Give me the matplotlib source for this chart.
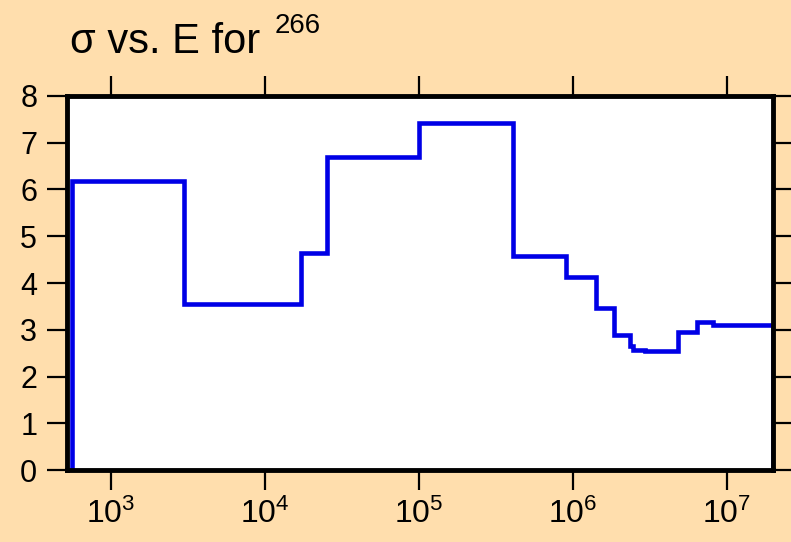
import numpy as np
import matplotlib
matplotlib.use("Agg")
import matplotlib.pyplot as plt

plt.rcParams['font.family'] = ['Liberation Sans', 'DejaVu Sans']
plt.rcParams['mathtext.fontset'] = 'custom'
plt.rcParams['mathtext.rm'] = 'Liberation Sans'
plt.rcParams['mathtext.it'] = 'Liberation Sans:italic'
plt.rcParams['mathtext.bf'] = 'Liberation Sans:bold'

# group boundaries (eV) and cross section per group
edges = [560, 3000, 17100, 25300, 1.0e5, 4.07e5, 9.0e5, 1.41e6, 1.85e6,
         2.35e6, 2.45e6, 2.94e6, 4.8e6, 6.4e6, 8.1e6, 2.0e7]
sigma = [6.18, 3.55, 4.64, 6.70, 7.43, 4.58, 4.13, 3.47, 2.89,
         2.66, 2.56, 2.54, 2.95, 3.16, 3.10]

bg = '#FFDEAD'
fig = plt.figure(figsize=(7.91, 5.42), dpi=100, facecolor=bg)
ax = fig.add_axes([0.0847, 0.1328, 0.8925, 0.6901])
ax.set_facecolor('white')

ax.stairs(sigma, edges, baseline=0, color='#0000E6', linewidth=3.3)

ax.set_xscale('log')
ax.set_xlim(518, 2.0e7)
ax.set_ylim(0, 8)
ax.set_yticks(range(0, 9))
ax.set_xticks([1e3, 1e4, 1e5, 1e6, 1e7])
ax.xaxis.set_minor_locator(matplotlib.ticker.NullLocator())

for s in ax.spines.values():
    s.set_linewidth(3.5)
ax.tick_params(axis='both', which='major', direction='out', length=14.5,
               width=1.6, top=True, right=True)
ax.tick_params(axis='y', labelsize=22, pad=7)
ax.tick_params(axis='x', labelsize=23, pad=6)

fig.text(0.089, 0.902, "σ vs. E for", fontsize=30, ha='left', va='baseline')
fig.text(0.347, 0.939, "266", fontsize=20, ha='left', va='baseline')

fig.savefig("out.png", dpi=100, facecolor=bg)
